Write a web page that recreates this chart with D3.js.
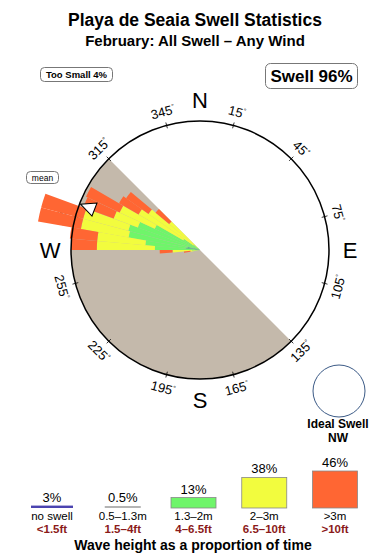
<!DOCTYPE html>
<html lang="en">
  <head>
    <meta charset="UTF-8" />
    <script src="https://d3js.org/d3.v7.min.js"></script>
    <title>Playa de Seaia Swell Statistics</title>
    <style>
      body { margin: 0; background: #fff; }
      svg text { font-family: 'Liberation Sans', Arial, sans-serif; }
    </style>
  </head>
  <body>
    <script>
      var width = 390
      var height = 560

      // swell direction bins (compass degrees, bin start) and band values (% of time)
      var dirs = [260, 265, 270, 275, 280, 285, 290, 295, 300, 305, 310]
      var band05 = [0, 0, 0.3, 0.9, 0.8, 0.4, 0.1, 0, 0, 0, 0]
      var band13 = [0.1, 0.5, 2.5, 2.5, 3.7, 4.2, 4.0, 3.1, 1.2, 0.5, 0.2]
      var band2 = [0.5, 1.2, 3.6, 3.0, 3.0, 2.9, 1.6, 2.4, 3.2, 3.4, 2.3]
      var band3 = [0.4, 0.8, 1.6, 1.7, 2.7, 2.7, 2.0, 2.3, 1.4, 1.7, 1.1]
      var binWidth = 5
      var meanDir = 291

      // compass ticks
      var tickDegs = [15, 45, 75, 105, 135, 165, 195, 225, 255, 285, 315, 345]
      var cardinals = ['N', 'E', 'S', 'W']

      // legend
      var legendPct = [3, 0.5, 13, 38, 46]
      var legendPctText = ['3%', '0.5%', '13%', '38%', '46%']
      var legendMetric = ['no swell', '0.5\u20131.3m', '1.3\u20132m', '2\u20133m', '>3m']
      var legendFeet = ['<1.5ft', '1.5\u20134ft', '4\u20136.5ft', '6.5\u201310ft', '>10ft']

      var bandKeys = ['b05', 'b13', 'b2', 'b3']
      var bandColors = ['#5cb78e', '#6ff56a', '#f2fc3e', '#ff6633']
      var legendColors = ['#4b44b0', '#b4b4b4', '#6ff56a', '#f2fc3e', '#ff6633']

      var cx = 200
      var cy = 250
      var R = 129
      var rad = function (d) { return (d * Math.PI) / 180 }

      var svg = d3.select('body').append('svg')
        .attr('width', width)
        .attr('height', height)

      // titles
      svg.append('text').attr('x', 195).attr('y', 26)
        .attr('text-anchor', 'middle').attr('font-size', 17.5).attr('font-weight', 'bold')
        .text('Playa de Seaia Swell Statistics')
      svg.append('text').attr('x', 195).attr('y', 46)
        .attr('text-anchor', 'middle').attr('font-size', 15).attr('font-weight', 'bold')
        .text('February: All Swell \u2013 Any Wind')

      // boxes
      svg.append('rect').attr('x', 40.5).attr('y', 67.5).attr('width', 72).attr('height', 14)
        .attr('rx', 4).attr('fill', '#fff').attr('stroke', '#777')
      svg.append('text').attr('x', 76.5).attr('y', 78).attr('text-anchor', 'middle')
        .attr('font-size', 9.5).attr('font-weight', 'bold').text('Too Small 4%')

      svg.append('rect').attr('x', 265.5).attr('y', 63.5).attr('width', 92).attr('height', 25)
        .attr('rx', 5).attr('fill', '#fff').attr('stroke', '#777')
      svg.append('text').attr('x', 311.5).attr('y', 82).attr('text-anchor', 'middle')
        .attr('font-size', 17).attr('font-weight', 'bold').text('Swell 96%')

      svg.append('rect').attr('x', 26.5).attr('y', 171.5).attr('width', 32).attr('height', 12)
        .attr('rx', 4).attr('fill', '#fff').attr('stroke', '#777')
      svg.append('text').attr('x', 42.5).attr('y', 180.5).attr('text-anchor', 'middle')
        .attr('font-size', 8.5).text('mean')

      var g = svg.append('g').attr('transform', 'translate(' + cx + ',' + cy + ')')

      // land shadow
      g.append('path')
        .attr('d', d3.arc().innerRadius(0).outerRadius(R).startAngle(rad(135)).endAngle(rad(315))())
        .attr('fill', '#c4b9ab')

      // tick labels
      tickDegs.forEach(function (a) {
        var lr = 143
        var x = lr * Math.sin(rad(a))
        var y = -lr * Math.cos(rad(a))
        var rot = a > 90 && a < 270 ? a - 180 : a
        if (rot > 180) rot -= 360
        var t = g.append('text')
          .attr('transform', 'translate(' + x + ',' + y + ') rotate(' + rot + ')')
          .attr('text-anchor', 'middle').attr('dy', '0.35em').attr('font-size', 13)
        t.append('tspan').text(a)
        t.append('tspan').attr('font-size', 7).attr('dy', -5).text('\u00b0')
        g.append('line')
          .attr('x1', (R - 3) * Math.sin(rad(a))).attr('y1', -(R - 3) * Math.cos(rad(a)))
          .attr('x2', (R + 3) * Math.sin(rad(a))).attr('y2', -(R + 3) * Math.cos(rad(a)))
          .attr('stroke', '#000').attr('stroke-width', 0.8)
      })

      // petals
      var rows = dirs.map(function (d, i) {
        return { dir: d, b05: band05[i], b13: band13[i], b2: band2[i], b3: band3[i] }
      })
      var stacked = d3.stack().keys(bandKeys)(rows)
      var rScale = d3.scaleLinear().domain([0, 8]).range([0, R])
      var petalArc = d3.arc()
        .innerRadius(function (d) { return rScale(d[0]) })
        .outerRadius(function (d) { return rScale(d[1]) })
        .startAngle(function (d) { return rad(d.data.dir) })
        .endAngle(function (d) { return rad(d.data.dir + binWidth) })

      g.selectAll('g.band')
        .data(stacked)
        .enter()
        .append('g')
        .attr('class', 'band')
        .attr('fill', function (d, i) { return bandColors[i] })
        .selectAll('path')
        .data(function (d) { return d.filter(function (p) { return p[1] > p[0] }) })
        .enter()
        .append('path')
        .attr('d', petalArc)

      // compass ring
      g.append('circle').attr('r', R).attr('fill', 'none').attr('stroke', '#000').attr('stroke-width', 1.5)

      // mean arrow
      g.append('path')
        .attr('d', 'M0,' + -(R - 1) + 'L-7,' + -(R - 16) + 'L7,' + -(R - 16) + 'Z')
        .attr('transform', 'rotate(' + meanDir + ')')
        .attr('fill', '#fff').attr('stroke', '#000').attr('stroke-width', 1)

      // cardinal letters
      cardinals.forEach(function (c, i) {
        var a = i * 90
        var lr = 150
        g.append('text')
          .attr('x', lr * Math.sin(rad(a)))
          .attr('y', -lr * Math.cos(rad(a)))
          .attr('dy', '0.36em')
          .attr('text-anchor', 'middle')
          .attr('font-size', 22)
          .text(c)
      })

      // ideal swell
      svg.append('circle').attr('cx', 339).attr('cy', 391).attr('r', 26)
        .attr('fill', '#fff').attr('stroke', '#3b5a86').attr('stroke-width', 1)
      svg.append('text').attr('x', 338).attr('y', 428).attr('text-anchor', 'middle')
        .attr('font-size', 12).attr('font-weight', 'bold').text('Ideal Swell')
      svg.append('text').attr('x', 338).attr('y', 442).attr('text-anchor', 'middle')
        .attr('font-size', 12).attr('font-weight', 'bold').text('NW')

      // legend bars
      var base = 508
      var xLeg = d3.scalePoint().domain(d3.range(legendPct.length)).range([52, 335])
      var hScale = d3.scaleLinear().domain([0, 46]).range([0, 37])
      var legW = [42, 36, 45, 45, 45]

      var leg = svg.selectAll('g.leg')
        .data(legendPct)
        .enter()
        .append('g')
        .attr('class', 'leg')
        .attr('transform', function (d, i) { return 'translate(' + xLeg(i) + ',0)' })

      leg.append('rect')
        .attr('x', function (d, i) { return -legW[i] / 2 })
        .attr('y', function (d) { return base - Math.max(hScale(d), 2) })
        .attr('width', function (d, i) { return legW[i] })
        .attr('height', function (d) { return Math.max(hScale(d), 2) })
        .attr('fill', function (d, i) { return legendColors[i] })
        .attr('stroke', function (d, i) { return i > 1 ? '#888' : 'none' })
        .attr('stroke-width', 0.8)

      leg.append('text')
        .attr('y', function (d) { return base - Math.max(hScale(d), 2) - 4 })
        .attr('text-anchor', 'middle').attr('font-size', 13)
        .text(function (d, i) { return legendPctText[i] })

      leg.append('text')
        .attr('y', 520).attr('text-anchor', 'middle').attr('font-size', 11.5)
        .text(function (d, i) { return legendMetric[i] })

      leg.append('text')
        .attr('y', 533).attr('text-anchor', 'middle').attr('font-size', 11.5)
        .attr('font-weight', 'bold').attr('fill', '#8b1a1a')
        .text(function (d, i) { return legendFeet[i] })

      svg.append('text').attr('x', 193).attr('y', 550).attr('text-anchor', 'middle')
        .attr('font-size', 14).attr('font-weight', 'bold')
        .text('Wave height as a proportion of time')
    </script>
  </body>
</html>
